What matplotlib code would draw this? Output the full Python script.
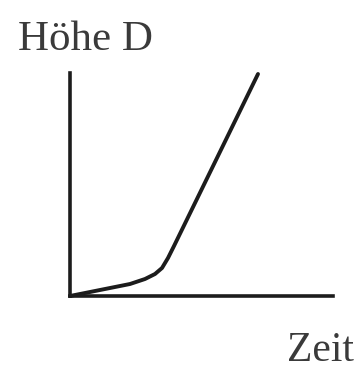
import matplotlib
matplotlib.use("Agg")
import matplotlib.pyplot as plt
import numpy as np

# Data (time vs height)
zeit = [0, 20, 40, 60, 75, 85, 92, 98, 104, 188]
hoehe = [0, 4, 8, 12, 17, 22, 28, 38, 50, 222]
y_label = "Höhe D"
x_label = "Zeit"

W, H = 357, 370
fig = plt.figure(figsize=(W / 100, H / 100), dpi=100)
ax = fig.add_axes([70 / W, 1 - 296 / H, 263 / W, 223 / H])
ax.set_xlim(0, 263)
ax.set_ylim(0, 223)
for s in ["top", "right"]:
    ax.spines[s].set_visible(False)
for s in ["left", "bottom"]:
    ax.spines[s].set_linewidth(2.6)
    ax.spines[s].set_color("#1c1c1c")
ax.set_xticks([])
ax.set_yticks([])
ax.patch.set_alpha(0)

ax.plot(zeit, hoehe, color="#1c1c1c", lw=2.8, clip_on=False,
        solid_joinstyle="round", solid_capstyle="round")

fig.text(18 / W, 1 - 50 / H, y_label, family="Liberation Serif", fontsize=31,
         color="#3a3a3a", ha="left", va="baseline")
fig.text(287 / W, 1 - 361 / H, x_label, family="Liberation Serif", fontsize=30,
         color="#3a3a3a", ha="left", va="baseline")

fig.savefig("out.png", dpi=100)
